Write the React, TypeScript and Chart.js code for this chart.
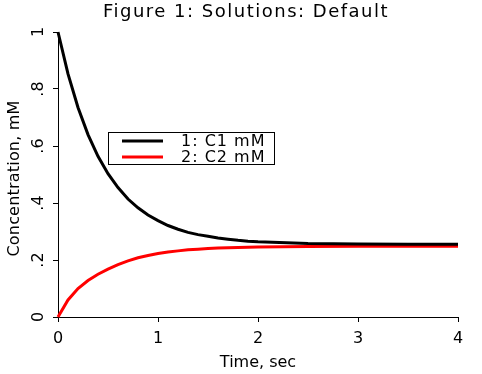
import React, { useEffect, useRef } from "react";
import { Chart, registerables } from "chart.js";

Chart.register(...registerables);

const titleText = "Figure 1: Solutions: Default";
const xTitle = "Time, sec";
const yTitle = "Concentration, mM";

const times = [0, 0.1, 0.2, 0.3, 0.4, 0.5, 0.6, 0.7, 0.8, 0.9, 1.0, 1.1, 1.2, 1.3, 1.4, 1.5, 1.6, 1.7, 1.8, 1.9, 2.0, 2.5, 3.0, 3.5, 4.0];
const c1Values = [1.0, 0.853, 0.735, 0.64, 0.564, 0.503, 0.454, 0.414, 0.383, 0.358, 0.338, 0.321, 0.308, 0.297, 0.289, 0.283, 0.277, 0.273, 0.269, 0.266, 0.264, 0.258, 0.256, 0.255, 0.255];
const c2Values = [0.0, 0.06, 0.1, 0.128, 0.15, 0.168, 0.184, 0.197, 0.208, 0.216, 0.223, 0.228, 0.232, 0.236, 0.238, 0.24, 0.242, 0.243, 0.244, 0.245, 0.246, 0.247, 0.248, 0.248, 0.248];
const seriesLabels = ["1: C1 mM", "2: C2 mM"];
const seriesColors = ["#000000", "#ff0000"];
const yTickLabels: Record<string, string> = { "0": "0", "0.2": ".2", "0.4": ".4", "0.6": ".6", "0.8": ".8", "1": "1" };

const FONT = "'DejaVu Sans', Verdana, sans-serif";

const overlayPlugin = {
  id: "overlay",
  afterDraw(chart: any) {
    const ctx = chart.ctx;
    ctx.save();
    // title
    ctx.fillStyle = "#000";
    ctx.font = `18px ${FONT}`;
    (ctx as any).letterSpacing = "1.5px";
    ctx.textAlign = "center";
    ctx.textBaseline = "middle";
    ctx.fillText(titleText, 246, 12.5);
    // y-axis title
    (ctx as any).letterSpacing = "0.2px";
    ctx.font = `16px ${FONT}`;
    ctx.save();
    ctx.translate(15, 178.5);
    ctx.rotate(-Math.PI / 2);
    ctx.fillText(yTitle, 0, 0);
    ctx.restore();
    // legend
    ctx.fillStyle = "#fff";
    ctx.fillRect(108, 132, 167, 33);
    ctx.strokeStyle = "#000";
    ctx.lineWidth = 1;
    ctx.strokeRect(108.5, 132.5, 166, 32);
    (ctx as any).letterSpacing = "1px";
    chart.data.datasets.forEach((ds: any, i: number) => {
      const y = 141 + i * 16;
      ctx.strokeStyle = ds.borderColor;
      ctx.lineWidth = 3;
      ctx.beginPath();
      ctx.moveTo(122, y);
      ctx.lineTo(163, y);
      ctx.stroke();
      ctx.fillStyle = "#000";
      ctx.font = `16px ${FONT}`;
      ctx.textAlign = "right";
      ctx.textBaseline = "middle";
      ctx.fillText(ds.label, 265.5, y + 0.5);
    });
    (ctx as any).letterSpacing = "0px";
    ctx.restore();
  },
};

export default function App() {
  const ref = useRef<HTMLCanvasElement | null>(null);
  useEffect(() => {
    document.body.style.margin = "0";
    const canvas = ref.current!;
    const chart = new Chart(canvas, {
      type: "line",
      data: {
        datasets: [
          {
            label: seriesLabels[0],
            data: times.map((t, i) => ({ x: t, y: c1Values[i] })),
            borderColor: seriesColors[0],
            backgroundColor: seriesColors[0],
            borderWidth: 3,
            pointRadius: 0,
            tension: 0,
            clip: false as any,
          },
          {
            label: seriesLabels[1],
            data: times.map((t, i) => ({ x: t, y: c2Values[i] })),
            borderColor: seriesColors[1],
            backgroundColor: seriesColors[1],
            borderWidth: 3,
            pointRadius: 0,
            tension: 0,
            clip: false as any,
          },
        ],
      },
      options: {
        animation: false,
        responsive: false,
        maintainAspectRatio: false,
        events: [],
        layout: { padding: { top: 32, right: 24, left: 0, bottom: 0 } },
        plugins: {
          legend: { display: false },
          title: { display: false },
          tooltip: { enabled: false },
        },
        scales: {
          x: {
            type: "linear",
            min: 0,
            max: 4,
            afterFit: (s: any) => { s.height = 57; },
            ticks: { stepSize: 1, color: "#000", font: { family: FONT, size: 16 }, padding: 7, maxRotation: 0 },
            grid: { drawOnChartArea: false, drawTicks: true, tickLength: 5, color: "#000", lineWidth: 1 },
            border: { display: true, color: "#000", width: 1 },
            title: { display: true, text: xTitle, color: "#000", font: { family: FONT, size: 16 }, padding: { top: 0, bottom: 2 } },
          },
          y: {
            type: "linear",
            min: 0,
            max: 1,
            afterFit: (s: any) => { s.width = 58; },
            ticks: {
              stepSize: 0.2,
              color: "#000",
              font: { family: FONT, size: 16 },
              padding: 7,
              minRotation: 90,
              maxRotation: 90,
              crossAlign: "center",
              callback: (v: any) => yTickLabels[String(Math.round(Number(v) * 10) / 10)] ?? String(v),
            },
            grid: { drawOnChartArea: false, drawTicks: true, tickLength: 5, color: "#000", lineWidth: 1 },
            border: { display: true, color: "#000", width: 1 },
            title: { display: false },
          },
        },
      },
      plugins: [overlayPlugin],
    });
    return () => chart.destroy();
  }, []);
  return (
    <div style={{ position: "absolute", left: 0, top: 0, width: 482, height: 374, background: "#fff" }}>
      <canvas ref={ref} width={482} height={374} style={{ display: "block" }} />
    </div>
  );
}
